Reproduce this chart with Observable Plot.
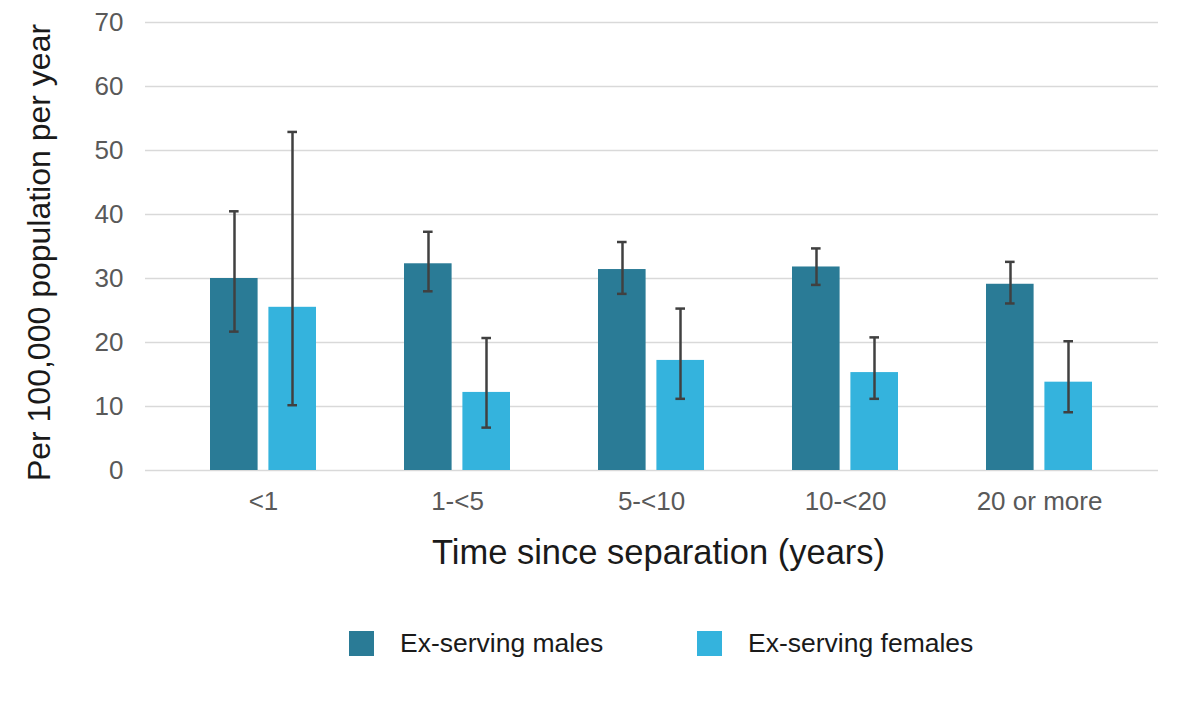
<!DOCTYPE html>
<html>
<head>
<meta charset="utf-8">
<script src="https://cdn.jsdelivr.net/npm/d3@7"></script>
<script src="https://cdn.jsdelivr.net/npm/@observablehq/plot@0.6"></script>
<style>
  body { margin: 0; background: #fff; font-family: "Liberation Sans", Arial, sans-serif; }
  #legend { display: flex; align-items: center; padding-left: 349px; margin-top: 18px; }
  .item { display: flex; align-items: center; width: 348px; }
  .swatch { width: 25px; height: 25px; margin-right: 26px; flex: none; }
  .item span { font-size: 26.5px; color: #1a1a1a; }
</style>
</head>
<body>
<div id="chart"></div>
<div id="legend"></div>
<script>
// Rates per 100,000 population per year, with 95% confidence intervals
const categories = ["<1", "1-<5", "5-<10", "10-<20", "20 or more"];
const malesRate = [30.0, 32.3, 31.4, 31.8, 29.1];
const malesLow = [21.7, 28.0, 27.6, 29.0, 26.1];
const malesHigh = [40.5, 37.3, 35.7, 34.7, 32.6];
const femalesRate = [25.5, 12.2, 17.2, 15.3, 13.8];
const femalesLow = [10.2, 6.7, 11.2, 11.2, 9.1];
const femalesHigh = [52.9, 20.7, 25.3, 20.8, 20.2];
const seriesNames = ["Ex-serving males", "Ex-serving females"];
const colors = ["#2A7B96", "#34B3DD"];
const yTicks = [0, 10, 20, 30, 40, 50, 60, 70];

const rows = (rate, low, high) =>
  categories.map((category, i) => ({category, rate: rate[i], low: low[i], high: high[i]}));
const males = rows(malesRate, malesLow, malesHigh);
const females = rows(femalesRate, femalesLow, femalesHigh);

const errColor = "#404040";

const chart = Plot.plot({
  width: 1181,
  height: 610,
  marginLeft: 165,
  marginRight: 44,
  marginTop: 22,
  marginBottom: 140,
  style: {
    fontFamily: "'Liberation Sans', Arial, sans-serif",
    fontSize: "26px",
    color: "#595959",
    background: "#fff",
    overflow: "visible"
  },
  x: {type: "band", domain: categories, paddingInner: 0, paddingOuter: 0,
      tickSize: 0, tickPadding: 21, label: null},
  y: {domain: [0, 70], ticks: yTicks, tickSize: 0, tickPadding: 42, label: null},
  marks: [
    Plot.ruleY(yTicks, {stroke: "#d9d9d9", strokeWidth: 1.3, insetLeft: -20, insetRight: -21}),
    Plot.barY(males, {x: "category", y: "rate", fill: colors[0], insetLeft: 44, insetRight: 102.4}),
    Plot.barY(females, {x: "category", y: "rate", fill: colors[1], insetLeft: 102.4, insetRight: 44}),
    // confidence interval whiskers
    Plot.ruleX(males, {x: "category", y1: "low", y2: "high", dx: -29, stroke: errColor, strokeWidth: 2.5}),
    Plot.ruleX(females, {x: "category", y1: "low", y2: "high", dx: 29, stroke: errColor, strokeWidth: 2.5}),
    Plot.tickY(males, {x: "category", y: "low", insetLeft: 63, insetRight: 121.4, stroke: errColor, strokeWidth: 2.5}),
    Plot.tickY(males, {x: "category", y: "high", insetLeft: 63, insetRight: 121.4, stroke: errColor, strokeWidth: 2.5}),
    Plot.tickY(females, {x: "category", y: "low", insetLeft: 121.4, insetRight: 63, stroke: errColor, strokeWidth: 2.5}),
    Plot.tickY(females, {x: "category", y: "high", insetLeft: 121.4, insetRight: 63, stroke: errColor, strokeWidth: 2.5}),
    // axis titles
    Plot.text(["Time since separation (years)"], {text: d => d, frameAnchor: "bottom", lineAnchor: "middle",
      textAnchor: "middle", dx: 7, dy: 82, fontSize: 34.5, fill: "#1a1a1a"}),
    Plot.text(["Per 100,000 population per year"], {text: d => d, frameAnchor: "left", lineAnchor: "middle",
      textAnchor: "middle", dx: -126, dy: 6, rotate: -90, fontSize: 32, fill: "#1a1a1a"})
  ]
});
document.getElementById("chart").appendChild(chart);

const legend = document.getElementById("legend");
seriesNames.forEach((name, i) => {
  const item = document.createElement("div");
  item.className = "item";
  const sw = document.createElement("div");
  sw.className = "swatch";
  sw.style.background = colors[i];
  const label = document.createElement("span");
  label.textContent = name;
  item.appendChild(sw);
  item.appendChild(label);
  legend.appendChild(item);
});
</script>
</body>
</html>
